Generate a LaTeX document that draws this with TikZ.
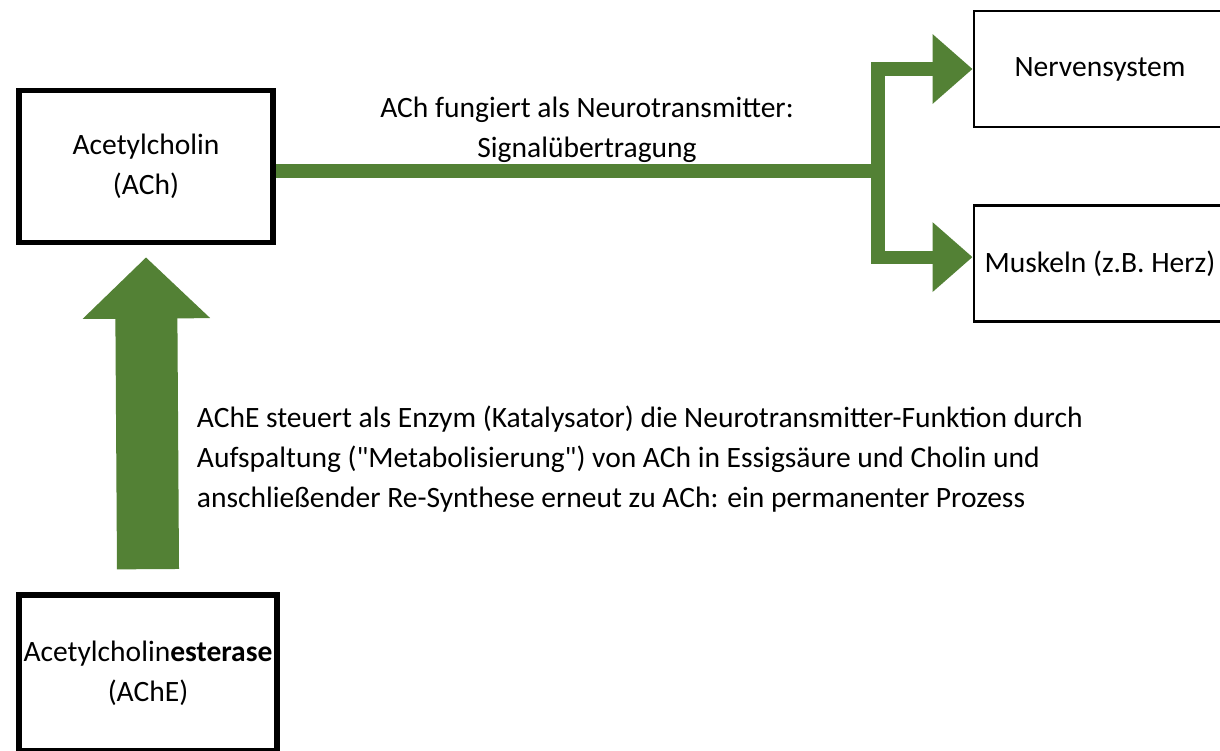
\documentclass[tikz,border=0pt]{standalone}
\usepackage{fontspec}
\setmainfont{Carlito}
\usetikzlibrary{arrows.meta, positioning}
\definecolor{leafgreen}{RGB}{83,129,53}

\begin{document}
\begin{tikzpicture}[
		x=0.025cm, y=-0.025cm,
		every node/.style={font=\fontsize{21}{28.2}\selectfont},
		box/.style={draw, line width=4pt, minimum width=6.35cm, minimum height=3.8cm, align=center},
		thinbox/.style={draw, line width=2pt, minimum width=6.3cm, minimum height=2.9cm, align=center},
		arrow/.style={-{Triangle[length=1cm, width=1.68cm]}, draw=leafgreen, line width=9.3pt},
		bigarrow/.style={-{Triangle[length=1.53cm, width=3.1cm]}, draw=leafgreen, line width=1.55cm}
	]
	
		\clip (0,0) rectangle (1220,750);
		\fill[white] (0,0) rectangle (1220,750);
		
		% Nodes
		\node[box] (ach) at (146,166.5) {Acetylcholin\\(ACh)};
		\node[box, minimum width=6.45cm, minimum height=3.9cm] (ache) at (148,673) {Acetylcholin\textbf{esterase}\\(AChE)};
		\node[thinbox] (nerv) at (1100,69) {Nervensystem};
		\node[thinbox] (musk) at (1100,263.5) {Muskeln (z.B. Herz)};
		\coordinate (junc) at (878,171);
		
		% Labels
		\node[align=center] (signal) at (587,130) {ACh fungiert als Neurotransmitter:\\Signalübertragung};
		\node[align=left, anchor=west] (enzym) at (192,459) {AChE steuert als Enzym (Katalysator) die Neurotransmitter-Funktion durch\\Aufspaltung (\textquotedbl Metabolisierung\textquotedbl) von ACh in Essigsäure und Cholin und\\anschließender Re-Synthese erneut zu ACh: ein permanenter Prozess};
		
		% Arrows
		\draw[leafgreen, line width=9.3pt] (ach.east |- junc) -- (junc);
		\draw[arrow] (junc) |- (nerv.west);
		\draw[arrow] (junc) |- ([yshift=0.16cm]musk.west);
		\draw[bigarrow] ([yshift=0.575cm]ache.north) -- ([yshift=-0.3cm]ach.south);
		
	\end{tikzpicture}
\end{document}
